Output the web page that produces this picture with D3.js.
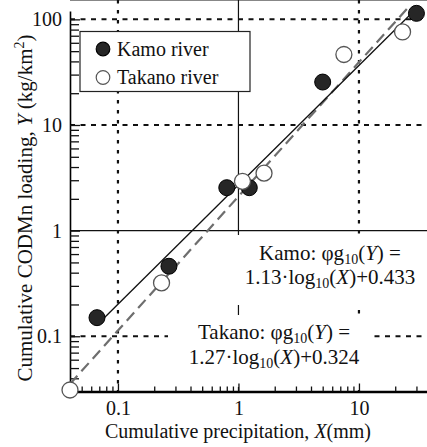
<!DOCTYPE html>
<html>
<head>
<meta charset="utf-8">
<script src="https://cdn.jsdelivr.net/npm/d3@7"></script>
<style>
body { margin: 0; background: #fff; }
svg text { font-family: "Liberation Serif", "Times New Roman", serif; fill: #111; }
</style>
</head>
<body>
<svg id="chartSvg" width="427" height="447"></svg>
<script>
// observed cumulative values (mm, kg/km2)
var kamoX = [0.067, 0.265, 0.8, 1.23, 5.0, 30]
var kamoY = [0.15, 0.46, 2.55, 2.55, 25.5, 114]
var takanoX = [0.04, 0.23, 1.08, 1.63, 7.5, 23]
var takanoY = [0.031, 0.32, 2.93, 3.5, 46.5, 76]
// log10(Y) = a*log10(X) + b
var kamoFit = [1.13, 0.433]
var takanoFit = [1.27, 0.324]
var kamoFitRange = [0.067, 30]
var takanoFitRange = [0.04, 25]
var xTicks = [0.1, 1, 10]
var yTicks = [0.1, 1, 10, 100]
var xTickLabels = ["0.1", "1", "10"]
var yTickLabels = ["0.1", "1", "10", "100"]

var svg = d3.select('#chartSvg')

var x = d3.scaleLog().domain([0.04, 40]).range([70, 431.5])
var y = d3.scaleLog().domain([0.03, 120]).range([391.5, 11])

var left = x.range()[0], bottom = y.range()[0], top = y.range()[1]

// grid lines
var grid = svg.append('g')
xTicks.forEach(function (v) {
    var solid = v === 1
    grid.append('line')
        .attr('x1', x(v)).attr('x2', x(v))
        .attr('y1', top).attr('y2', bottom)
        .attr('stroke', '#111')
        .attr('stroke-width', solid ? 1.2 : 2.2)
        .attr('stroke-dasharray', solid ? null : '3.5,6.5')
})
yTicks.forEach(function (v) {
    var solid = v === 1
    grid.append('line')
        .attr('x1', left).attr('x2', 427)
        .attr('y1', y(v)).attr('y2', y(v))
        .attr('stroke', '#111')
        .attr('stroke-width', solid ? 1.2 : 2)
        .attr('stroke-dasharray', solid ? null : '5,5.5')
})

// top frame
svg.append('line')
    .attr('x1', left).attr('x2', 427)
    .attr('y1', top).attr('y2', top)
    .attr('stroke', '#111').attr('stroke-width', 1.2)

// white boxes behind legend and equations
svg.append('rect')
    .attr('x', 80).attr('y', 31.5).attr('width', 170).attr('height', 60)
    .attr('fill', '#fff').attr('stroke', '#222').attr('stroke-width', 1.2)
svg.append('rect')
    .attr('x', 234).attr('y', 235).attr('width', 193).attr('height', 70)
    .attr('fill', '#fff')
svg.append('rect')
    .attr('x', 168).attr('y', 315).attr('width', 204).attr('height', 72)
    .attr('fill', '#fff')

// axes
var yMinor = y.ticks().filter(function (v) { return yTicks.indexOf(v) < 0 })
var xMinor = x.ticks().filter(function (v) { return xTicks.indexOf(v) < 0 })

svg.append('g')
    .attr('transform', 'translate(' + left + ',0)')
    .call(d3.axisLeft(y).tickValues(yMinor).tickSize(-9).tickSizeOuter(0).tickFormat(''))
    .call(function (g) { g.select('.domain').attr('stroke-width', 1.6) })
var yAxis = svg.append('g')
    .attr('transform', 'translate(' + left + ',0)')
    .call(d3.axisLeft(y).tickValues(yTicks).tickSize(-10).tickSizeOuter(0).tickPadding(8)
        .tickFormat(function (d, i) { return yTickLabels[i] }))
yAxis.select('.domain').remove()
yAxis.selectAll('text').attr('font-size', 20).attr('font-family', '"Liberation Serif", serif')

svg.append('g')
    .attr('transform', 'translate(0,' + bottom + ')')
    .call(d3.axisBottom(x).tickValues(xMinor).tickSize(-5).tickSizeOuter(0).tickFormat(''))
    .call(function (g) { g.select('.domain').attr('stroke-width', 2.4) })
var xAxis = svg.append('g')
    .attr('transform', 'translate(0,' + bottom + ')')
    .call(d3.axisBottom(x).tickValues(xTicks).tickSize(-8).tickSizeOuter(0).tickPadding(9)
        .tickFormat(function (d, i) { return xTickLabels[i] }))
xAxis.select('.domain').remove()
xAxis.selectAll('text').attr('font-size', 20).attr('font-family', '"Liberation Serif", serif')
svg.selectAll('.tick line').attr('stroke', '#111').attr('stroke-width', 1.3)

// fitted lines
function fitLine(fit, range) {
    return range.map(function (v) {
        return [x(v), y(Math.pow(10, fit[0] * Math.log10(v) + fit[1]))]
    })
}
svg.append('path')
    .attr('d', d3.line()(fitLine(takanoFit, takanoFitRange)))
    .attr('fill', 'none').attr('stroke', '#6e6e6e').attr('stroke-width', 2.2)
    .attr('stroke-dasharray', '11,6')
svg.append('path')
    .attr('d', d3.line()(fitLine(kamoFit, kamoFitRange)))
    .attr('fill', 'none').attr('stroke', '#111').attr('stroke-width', 1.3)

// points
svg.append('g').selectAll('circle')
    .data(d3.range(kamoX.length))
    .enter().append('circle')
    .attr('cx', function (i) { return x(kamoX[i]) })
    .attr('cy', function (i) { return y(kamoY[i]) })
    .attr('r', 8)
    .attr('fill', '#262626').attr('stroke', '#000').attr('stroke-width', 1)
svg.append('g').selectAll('circle')
    .data(d3.range(takanoX.length))
    .enter().append('circle')
    .attr('cx', function (i) { return x(takanoX[i]) })
    .attr('cy', function (i) { return y(takanoY[i]) })
    .attr('r', 8)
    .attr('fill', '#fff').attr('stroke', '#555').attr('stroke-width', 1.3)

// legend
var legend = [["Kamo river", '#262626', '#000', 49], ["Takano river", '#fff', '#555', 77.5]]
legend.forEach(function (l) {
    svg.append('circle')
        .attr('cx', 103).attr('cy', l[3]).attr('r', 6.8)
        .attr('fill', l[1]).attr('stroke', l[2]).attr('stroke-width', 1.2)
    svg.append('text')
        .attr('x', 117).attr('y', l[3] + 6.5)
        .attr('font-size', 20)
        .text(l[0])
})

// equations
function equation(cx, cy, gap, name, slope, icpt) {
    var t1 = svg.append('text').attr('x', cx).attr('y', cy)
        .attr('text-anchor', 'middle').attr('font-size', 21)
    t1.append('tspan').text(name + ': \u03c6g')
    t1.append('tspan').attr('font-size', 14).attr('dy', 4).text('10')
    t1.append('tspan').attr('dy', -4).text('(')
    t1.append('tspan').attr('font-style', 'italic').text('Y')
    t1.append('tspan').text(') =')
    var t2 = svg.append('text').attr('x', cx).attr('y', cy + gap)
        .attr('text-anchor', 'middle').attr('font-size', 21)
    t2.append('tspan').text(slope + '\u00b7log')
    t2.append('tspan').attr('font-size', 14).attr('dy', 4).text('10')
    t2.append('tspan').attr('dy', -4).text('(')
    t2.append('tspan').attr('font-style', 'italic').text('X')
    t2.append('tspan').text(')+' + icpt)
}
equation(330, 260, 24, 'Kamo', kamoFit[0].toFixed(2), kamoFit[1].toFixed(3))
equation(274, 339, 25, 'Takano', takanoFit[0].toFixed(2), takanoFit[1].toFixed(3))

// axis titles
var xTitle = svg.append('text')
    .attr('x', 238).attr('y', 438)
    .attr('text-anchor', 'middle').attr('font-size', 20)
xTitle.append('tspan').text('Cumulative precipitation, ')
xTitle.append('tspan').attr('font-style', 'italic').text('X')
xTitle.append('tspan').text('(mm)')

var yTitle = svg.append('text')
    .attr('transform', 'translate(32,208) rotate(-90)')
    .attr('text-anchor', 'middle').attr('font-size', 21)
yTitle.append('tspan').text('Cumulative CODMn loading, ')
yTitle.append('tspan').attr('font-style', 'italic').text('Y')
yTitle.append('tspan').text(' (kg/km')
yTitle.append('tspan').attr('font-size', 14).attr('dy', -8).text('2')
yTitle.append('tspan').attr('dy', 8).text(')')
</script>
</body>
</html>
